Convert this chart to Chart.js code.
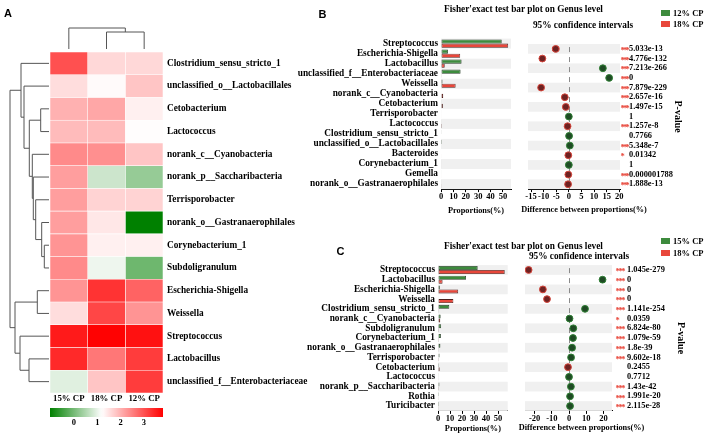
<!DOCTYPE html>
<html><head><meta charset="utf-8">
<script src="https://cdn.jsdelivr.net/npm/chart.js@4.4.1/dist/chart.umd.min.js"></script>
<style>
body{margin:0;background:#fff;}
#wrap{position:relative;width:708px;height:436px;overflow:hidden;background:#fff;font-family:"Liberation Serif",serif;}
canvas{position:absolute;}
.t{position:absolute;white-space:nowrap;transform:translate(-50%,-50%);font-weight:bold;color:#000;line-height:1;}
.l{position:absolute;white-space:nowrap;transform:translateY(-50%);font-weight:bold;color:#000;line-height:1;font-size:8.5px;}
.sq{position:absolute;width:9px;height:6px;}
.pl{position:absolute;transform:translate(-50%,-50%);font-family:"Liberation Sans",Arial,sans-serif;font-weight:bold;font-size:11px;line-height:1;}
</style></head><body>
<div id="wrap">
<canvas id="cA" width="310" height="436" style="left:0;top:0;width:310px;height:436px"></canvas>
<canvas id="cBb" width="255" height="190" style="left:260px;top:30px;width:255px;height:190px"></canvas>
<canvas id="cBc" width="193" height="190" style="left:515px;top:30px;width:193px;height:190px"></canvas>
<canvas id="cCb" width="255" height="191" style="left:260px;top:245px;width:255px;height:191px"></canvas>
<canvas id="cCc" width="193" height="191" style="left:515px;top:245px;width:193px;height:191px"></canvas>
<div class="pl" style="left:8px;top:13px">A</div>
<div class="pl" style="left:322.5px;top:13.5px">B</div>
<div class="pl" style="left:340.5px;top:250.5px">C</div>
<div class="t" style="left:523.5px;top:9.5px;font-size:9.3px">Fisher'exact test bar plot on Genus level</div>
<div class="t" style="left:583px;top:26px;font-size:9.3px">95% confidence intervals</div>
<div class="t" style="left:523.5px;top:246.5px;font-size:9.3px">Fisher'exact test bar plot on Genus level</div>
<div class="t" style="left:579px;top:257px;font-size:9.3px">95% confidence intervals</div>
<div class="sq" style="left:661px;top:9.5px;background:#3d8b3d"></div>
<div class="l" style="left:673px;top:12.5px">12% CP</div>
<div class="sq" style="left:661px;top:20.5px;background:#e8473b"></div>
<div class="l" style="left:673px;top:23.5px">18% CP</div>
<div class="sq" style="left:661px;top:238px;background:#3d8b3d"></div>
<div class="l" style="left:673px;top:241px">15% CP</div>
<div class="sq" style="left:661px;top:250px;background:#e8473b"></div>
<div class="l" style="left:673px;top:253px">18% CP</div>
</div>
<script>
// ---------- Panel A data ----------
const heatGenus = ['Clostridium_sensu_stricto_1','unclassified_o__Lactobacillales','Cetobacterium','Lactococcus','norank_c__Cyanobacteria','norank_p__Saccharibacteria','Terrisporobacter','norank_o__Gastranaerophilales','Corynebacterium_1','Subdoligranulum','Escherichia-Shigella','Weissella','Streptococcus','Lactobacillus','unclassified_f__Enterobacteriaceae'];
const heatGroups = ['15% CP','18% CP','12% CP'];
const heat15 = [3.0,1.55,2.0,1.9,2.4,2.2,2.2,2.2,2.3,2.4,2.3,1.55,3.55,3.4,0.93];
const heat18 = [1.6,1.25,2.1,1.9,2.35,0.75,1.65,1.45,1.35,1.05,3.3,3.1,3.8,2.6,1.8];
const heat12 = [1.6,1.8,1.35,1.22,1.8,0.28,1.65,-1.03,1.35,-0.07,2.8,2.3,3.65,3.2,3.2];
const colorbarTicks = [0,1,2,3];
const colorbarRange = [-1.03, 1.2, 3.82];
// dendrograms: [height, left, right], leaves are row / column indices
const rowTree = [39,[28,0,[25,1,[19.7,[8.3,2,3],[16.7,4,[15.7,5,[13.3,6,[7.3,7,[4.7,8,9]]]]]]]],[34,[11.7,10,11],[29,12,[20,13,14]]]];
const colTree = [21,0,[17,1,2]];

// ---------- Panel B data ----------
const genusB = ['Streptococcus','Escherichia-Shigella','Lactobacillus','unclassified_f__Enterobacteriaceae','Weissella','norank_c__Cyanobacteria','Cetobacterium','Terrisporobacter','Lactococcus','Clostridium_sensu_stricto_1','unclassified_o__Lactobacillales','Bacteroides','Corynebacterium_1','Gemella','norank_o__Gastranaerophilales'];
const groupsB = ['12% CP','18% CP'];
const propB12 = [49,5.6,16.6,15.8,1.2,0.4,0.3,0.5,0.3,0.6,0.8,0.4,0.5,0.3,0.3];
const propB18 = [54.2,15.5,3,0.2,11.8,1.8,1.5,0.5,0.8,0.4,0.4,0.5,0.5,0.5,0.6];
const diffB = [-5.2,-10.5,13.5,16,-11,-1.6,-1.2,0,-0.5,0.1,0.4,-0.2,0,-0.2,-0.3];
const ciB = [1.2,0.6,0.6,0.5,0.6,0.3,0.3,0.2,0.2,0.2,0.2,0.2,0.2,0.2,0.2];
const pB = ['5.033e-13','4.776e-132','7.213e-266','0','7.879e-229','2.657e-16','1.497e-15','1','1.257e-8','0.7766','5.348e-7','0.01342','1','0.000001788','1.888e-13'];
const propTicksB = [0,10,20,30,40,50];
const diffTicksB = [-15,-10,-5,0,5,10,15,20];

// ---------- Panel C data ----------
const genusC = ['Streptococcus','Lactobacillus','Escherichia-Shigella','Weissella','Clostridium_sensu_stricto_1','norank_c__Cyanobacteria','Subdoligranulum','Corynebacterium_1','norank_o__Gastranaerophilales','Terrisporobacter','Cetobacterium','Lactococcus','norank_p__Saccharibacteria','Rothia','Turicibacter'];
const groupsC = ['15% CP','18% CP'];
const propC15 = [33,23.3,1.5,0.3,9.4,2.2,2.6,2.4,2,1.3,0.8,0.6,1.2,0.8,0.8];
const propC18 = [55.5,3.8,16.8,12.8,0.2,1.9,0.1,0.1,0.2,0.1,1.4,0.6,0.1,0.2,0.2];
const diffC = [-23.5,19.5,-15.2,-12.8,9.3,0.3,2.5,2.3,1.8,1.2,-0.6,0,1.1,0.6,0.6];
const ciC = [1.0,0.8,0.6,0.6,0.5,0.3,0.3,0.3,0.3,0.3,0.3,0.3,0.3,0.3,0.3];
const pC = ['1.045e-279','0','0','0','1.141e-254','0.0359','6.824e-80','1.079e-59','1.8e-39','9.602e-18','0.2455','0.7712','1.43e-42','1.991e-20','2.115e-28'];
const propTicksC = [0,10,20,30,40,50];
const diffTicksC = [-20,-10,0,10,20];

// ---------- helpers ----------
const SERIF = '"Liberation Serif", "Times New Roman", serif';
const fLab = {family: SERIF, size: 9.3, weight: 'bold'};
const fTick = {family: SERIF, size: 8.5, weight: 'bold'};
const fP = {family: SERIF, size: 8.4, weight: 'bold'};
const GREEN = '#3d8b3d', RED = '#e8473b';
Chart.defaults.animation = false;
Chart.defaults.responsive = false;
Chart.defaults.devicePixelRatio = 1;
Chart.defaults.plugins.legend.display = false;
Chart.defaults.plugins.tooltip.enabled = false;
Chart.defaults.color = '#000';

function heatColor(v){
  const [lo, mid, hi] = colorbarRange;
  let r,g,b;
  if (v <= mid){ const t = Math.max(0,(mid - v)/(mid - lo)); r = 255*(1-t); g = 255 - 127*t; b = 255*(1-t); }
  else { const t = Math.min(1,(v - mid)/(hi - mid)); r = 255; g = 255*(1-t); b = 255*(1-t); }
  return `rgb(${Math.round(r)},${Math.round(g)},${Math.round(b)})`;
}
function stars(p){ const v = parseFloat(p); return v < 0.001 ? '***' : v < 0.01 ? '**' : v < 0.05 ? '*' : ''; }

// ---------- Panel A ----------
const heatCols = [heat15, heat18, heat12];
const heatPlugin = {
  id: 'heatExtras',
  afterDraw(chart){
    const {ctx, chartArea: a, scales: {x, y}} = chart;
    ctx.save();
    ctx.strokeStyle = '#555'; ctx.lineWidth = 1;
    const rowNode = (n) => {
      if (typeof n === 'number') return {p: y.getPixelForValue(n), d: a.left - 1};
      const c1 = rowNode(n[1]), c2 = rowNode(n[2]);
      const d = a.left - 1 - n[0];
      ctx.beginPath();
      ctx.moveTo(c1.d, c1.p); ctx.lineTo(d, c1.p); ctx.lineTo(d, c2.p); ctx.lineTo(c2.d, c2.p);
      ctx.stroke();
      return {p: (c1.p + c2.p)/2, d};
    };
    rowNode(rowTree);
    const colNode = (n) => {
      if (typeof n === 'number') return {p: x.getPixelForValue(n + 0.5), d: a.top - 3};
      const c1 = colNode(n[1]), c2 = colNode(n[2]);
      const d = a.top - 3 - n[0];
      ctx.beginPath();
      ctx.moveTo(c1.p, c1.d); ctx.lineTo(c1.p, d); ctx.lineTo(c2.p, d); ctx.lineTo(c2.p, c2.d);
      ctx.stroke();
      return {p: (c1.p + c2.p)/2, d};
    };
    colNode(colTree);
    const [lo, mid, hi] = colorbarRange;
    const x0 = a.left, x1 = a.right, y0 = a.bottom + 15, h = 9;
    const grd = ctx.createLinearGradient(x0, 0, x1, 0);
    const N = 40;
    for (let i = 0; i <= N; i++){ const v = lo + (hi - lo)*i/N; grd.addColorStop(i/N, heatColor(v)); }
    ctx.fillStyle = grd; ctx.fillRect(x0, y0, x1 - x0, h);
    ctx.fillStyle = '#000'; ctx.font = `bold 8.5px ${SERIF}`; ctx.textAlign = 'center'; ctx.textBaseline = 'middle';
    colorbarTicks.forEach(v => { ctx.fillText(String(v), x0 + (v - lo)/(hi - lo)*(x1 - x0), y0 + h + 6); });
    ctx.restore();
  }
};
new Chart(document.getElementById('cA'), {
  type: 'bar',
  data: {
    labels: heatGenus,
    datasets: heatGroups.map((g, c) => ({
      label: g,
      data: heatGenus.map(() => [c, c + 1]),
      backgroundColor: heatCols[c].map(heatColor),
      borderColor: 'rgba(255,255,255,0.55)', borderWidth: 0.6, borderSkipped: false,
      barPercentage: 1, categoryPercentage: 1, grouped: false
    }))
  },
  options: {
    indexAxis: 'y',
    layout: {padding: {left: 50, top: 52, right: 0, bottom: 0}},
    scales: {
      x: {type: 'linear', min: 0, max: 3,
          afterBuildTicks: s => { s.ticks = heatGroups.map((g, i) => ({value: i + 0.5})); },
          ticks: {callback: (v, i) => heatGroups[i], font: {family: SERIF, size: 8.8, weight: 'bold'}, padding: 0, maxRotation: 0, autoSkip: false},
          grid: {display: false, drawTicks: false}, border: {display: false},
          afterFit: s => { s.height = 43; }},
      y: {position: 'right', grid: {display: false, drawTicks: false}, border: {display: false},
          ticks: {font: fLab, padding: 4, autoSkip: false},
          afterFit: s => { s.width = 147; }}
    }
  },
  plugins: [heatPlugin]
});

// ---------- Panels B & C ----------
const stripePlugin = {
  id: 'stripes',
  beforeDatasetsDraw(chart){
    const {ctx, chartArea: a, scales: {y}} = chart;
    const n = y.getLabels().length;
    const half = (y.getPixelForValue(1) - y.getPixelForValue(0))/2;
    ctx.save(); ctx.fillStyle = '#f0f0f0';
    for (let i = 0; i < n; i += 2){ const c = y.getPixelForValue(i); ctx.fillRect(a.left, c - half, a.right - a.left, 2*half); }
    ctx.restore();
  }
};
function ciExtras(ci, pvals, starDx, starStep, titleDx, titleY){
  return {
    id: 'ciExtras',
    beforeDatasetsDraw(chart){
      const {ctx, chartArea: a, scales: {x, y}} = chart;
      ctx.save();
      ctx.strokeStyle = '#8a8a8a'; ctx.lineWidth = 1; ctx.setLineDash([5, 5]);
      const x0 = Math.round(x.getPixelForValue(0)) + 0.5;
      ctx.beginPath(); ctx.moveTo(x0, a.top + 3); ctx.lineTo(x0, a.bottom); ctx.stroke();
      ctx.setLineDash([]);
      const ds = chart.data.datasets[0].data;
      ds.forEach((d, i) => {
        const yy = y.getPixelForValue(i);
        const xl = x.getPixelForValue(d.x - ci[i]), xr = x.getPixelForValue(d.x + ci[i]);
        ctx.strokeStyle = d.x < 0 ? '#c0392b' : '#2a6b2e';
        ctx.beginPath(); ctx.moveTo(xl, yy); ctx.lineTo(xr, yy);
        ctx.moveTo(xl, yy - 2); ctx.lineTo(xl, yy + 2); ctx.moveTo(xr, yy - 2); ctx.lineTo(xr, yy + 2);
        ctx.stroke();
      });
      ctx.restore();
    },
    afterDraw(chart){
      const {ctx, chartArea: a, scales: {y}} = chart;
      ctx.save();
      ctx.fillStyle = '#e8473b'; ctx.font = `bold 8.5px ${SERIF}`; ctx.textAlign = 'left'; ctx.textBaseline = 'middle';
      pvals.forEach((p, i) => {
        const s = stars(p);
        for (let k = 0; k < s.length; k++) ctx.fillText('*', a.right + starDx + k*starStep, y.getPixelForValue(i) + 2);
      });
      ctx.fillStyle = '#000'; ctx.font = `bold 8.3px ${SERIF}`; ctx.textAlign = 'center';
      ctx.fillText('Difference between proportions(%)', (a.left + a.right)/2 + titleDx, titleY);
      ctx.restore();
    }
  };
}
function propChart(id, genus, groups, a1, a2, ticks, max, yW, padTop, padRight, xH, titlePadB){
  new Chart(document.getElementById(id), {
    type: 'bar',
    data: {labels: genus, datasets: [
      {label: groups[0], data: a1, backgroundColor: GREEN, borderColor: '#243a24', borderWidth: 0.8, borderSkipped: false, categoryPercentage: 0.82, barPercentage: 1},
      {label: groups[1], data: a2, backgroundColor: RED, borderColor: '#4a1e1a', borderWidth: 0.8, borderSkipped: false, categoryPercentage: 0.82, barPercentage: 1}
    ]},
    options: {
      indexAxis: 'y',
      layout: {padding: {left: 0, right: padRight, top: padTop, bottom: 0}},
      scales: {
        x: {type: 'linear', min: 0, max: max,
            afterBuildTicks: s => { s.ticks = ticks.map(v => ({value: v})); },
            grid: {drawOnChartArea: false, drawTicks: true, tickLength: 3, tickColor: '#000'},
            border: {display: true, color: '#000'},
            ticks: {font: fTick, padding: 0, maxRotation: 0, autoSkip: false},
            title: {display: true, text: 'Proportions(%)', font: {family: SERIF, size: 8.3, weight: 'bold'}, padding: {top: 0, bottom: titlePadB}},
            afterFit: s => { s.height = xH; }},
        y: {grid: {display: false, drawTicks: false}, border: {display: false},
            ticks: {font: fLab, padding: 3, autoSkip: false},
            afterFit: s => { s.width = yW; }}
      }
    },
    plugins: [stripePlugin]
  });
}
function diffChart(id, genus, diff, ci, pvals, ticks, min, max, padLeft, padTop, pW, pPad, starDx, starStep, titlePad, xH, titleDx, titleY){
  new Chart(document.getElementById(id), {
    type: 'scatter',
    data: {datasets: [{
      data: diff.map((v, i) => ({x: v, y: genus[i]})),
      pointRadius: 3.4, pointBorderWidth: 1,
      pointBackgroundColor: diff.map(v => v < 0 ? '#6e2222' : '#1f4a24'),
      pointBorderColor: diff.map(v => v < 0 ? '#d6453a' : '#2f7f34')
    }]},
    options: {
      layout: {padding: {left: padLeft, right: 0, top: padTop, bottom: 0}},
      scales: {
        x: {type: 'linear', min: min, max: max,
            afterBuildTicks: s => { s.ticks = ticks.map(v => ({value: v})); },
            grid: {drawOnChartArea: false, drawTicks: true, tickLength: 3, tickColor: '#000'},
            border: {display: true, color: '#000'},
            ticks: {font: fTick, padding: 0, maxRotation: 0, autoSkip: false},
            afterFit: s => { s.height = xH; }},
        y: {type: 'category', labels: genus, offset: true, display: false},
        yP: {type: 'category', labels: pvals, offset: true, position: 'right',
             grid: {display: false, drawTicks: false}, border: {display: false},
             ticks: {font: fP, padding: pPad, autoSkip: false},
             title: {display: true, text: 'P-value', font: {family: SERIF, size: 10, weight: 'bold'}, padding: {top: titlePad, bottom: 0}},
             afterFit: s => { s.width = pW; }}
      }
    },
    plugins: [stripePlugin, ciExtras(ci, pvals, starDx, starStep, titleDx, titleY)]
  });
}
propChart('cBb', genusB, groupsB, propB12, propB18, propTicksB, 56.5, 181, 6.9, 4, 30.9, 4);
diffChart('cBc', genusB, diffB, ciB, pB, diffTicksB, -16.2, 20.3, 13, 6.9, 88, 9, 0.5, 2.5, 24.4, 30.9, 10, 180);
propChart('cCb', genusC, groupsC, propC15, propC18, propTicksC, 58, 178, 20.1, 7.3, 25.1, 2);
diffChart('cCc', genusC, diffC, ciC, pC, diffTicksC, -25.6, 25, 10, 20.1, 96, 15, 3.5, 2.9, 21.4, 25.1, 13, 183);
</script>
</body></html>
